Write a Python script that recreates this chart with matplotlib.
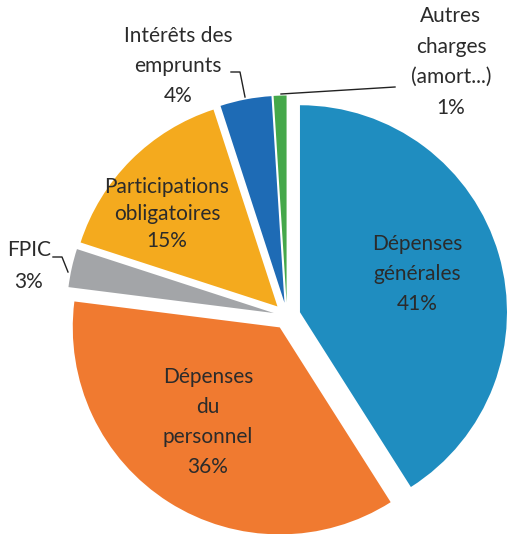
import matplotlib.pyplot as plt

# Répartition des dépenses (%)
labels = ["Dépenses\ngénérales", "Dépenses\ndu\npersonnel", "FPIC",
          "Participations\nobligatoires", "Intérêts des\nemprunts",
          "Autres\ncharges\n(amort...)"]
values = [41, 36, 3, 15, 4, 1]
colors = ["#1F8DC0", "#F07A30", "#A3A5A8", "#F4AA1E", "#1E6BB5", "#45A84A"]

W, H = 508, 534
txt = "#2B2B2B"
plt.rcParams['font.family'] = ['Lato', 'DejaVu Sans']

fig = plt.figure(figsize=(W / 100, H / 100), dpi=100)
ax = fig.add_axes([0, 0, 1, 1])

R = 207
cx, cy = 287, H - 316
# explode en unités de données (pixels ici)
ax.pie(values, colors=colors, startangle=90, counterclock=False,
       radius=R, center=(cx, cy), explode=[13.5] * len(values),
       wedgeprops=dict(linewidth=0), frame=True)
ax.set_xlim(0, W)
ax.set_ylim(0, H)
ax.axis('off')

def lab(x, y, s, size=15, ls=1.62):
    ax.text(x, H - y, s, ha='center', va='center', fontsize=size,
            color=txt, linespacing=ls)

lab(417, 274, f"{labels[0]}\n{values[0]}%")
lab(208, 422, f"{labels[1]}\n{values[1]}%")
lab(29, 266, f"{labels[2]}\n{values[2]}%", ls=1.8)
lab(167, 214, f"{labels[3]}\n{values[3]}%", ls=1.45)
lab(178, 66, f"{labels[4]}\n{values[4]}%")
lab(451, 62, f"{labels[5]}\n{values[5]}%", ls=1.66)

# lignes de rappel
lw = 1.0
ax.plot([231, 240, 245], [H - 72, H - 72, H - 97], color="#222222", lw=lw)
ax.plot([395, 281], [H - 87, H - 94], color="#222222", lw=lw)
ax.plot([53, 62, 68], [H - 257, H - 257, H - 272], color="#222222", lw=lw)

fig.savefig("out.png", dpi=100)
